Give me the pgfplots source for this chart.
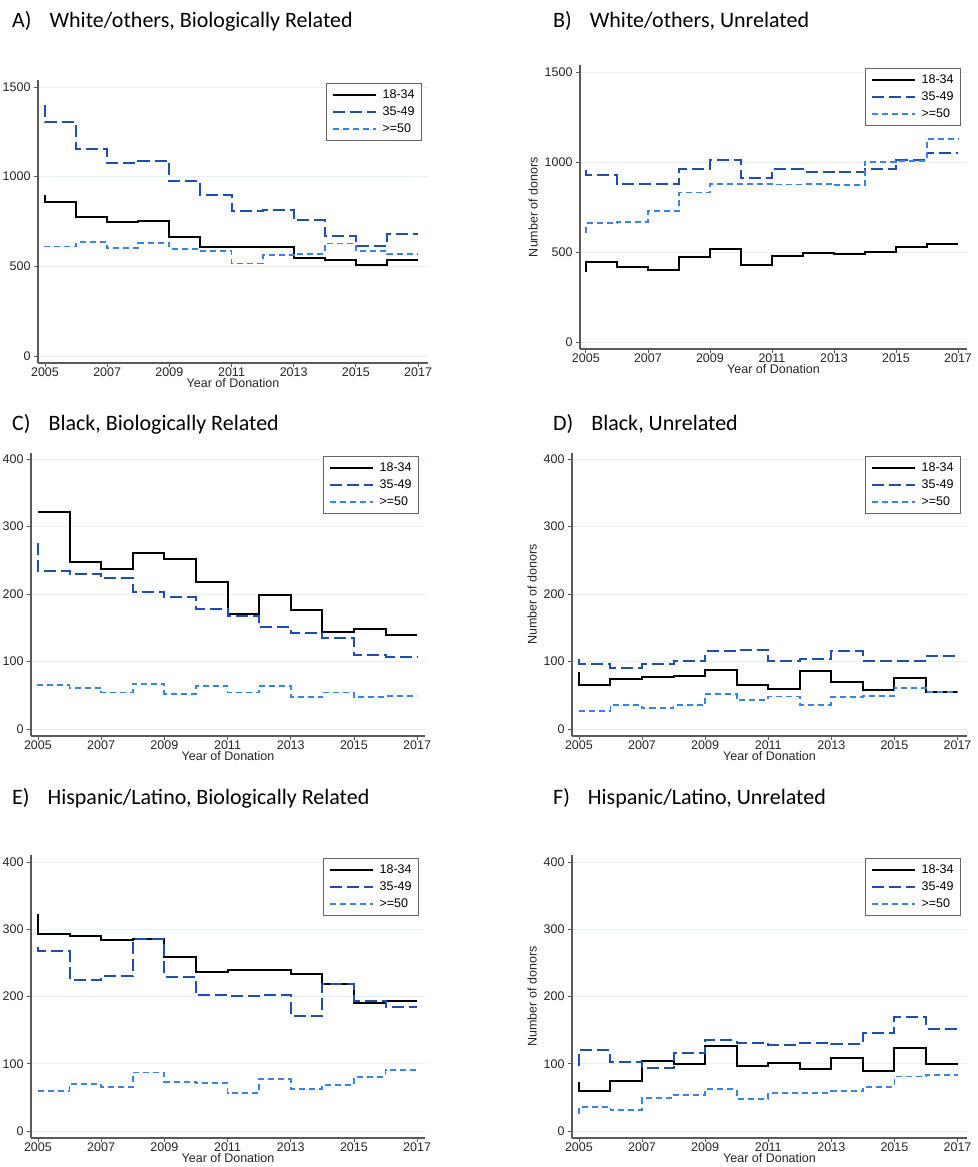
\documentclass[border=0pt]{standalone}
\usepackage{fontspec}
\setmainfont{Liberation Sans}
\newfontfamily\titlefont{Carlito}
\usepackage{pgfplots}
\usepackage{pgfplotstable}
\pgfplotsset{compat=1.18}
\definecolor{cdark}{RGB}{30,78,176}
\definecolor{clight}{RGB}{55,130,235}
\definecolor{gridc}{RGB}{232,240,242}
\definecolor{axc}{RGB}{90,90,90}

% x: year; a: 18-34; b: 35-49; c: >=50
\pgfplotstableread{
x a b c
2005 897 1398 605
2005 856 1303 611
2006 774 1153 635
2007 746 1075 600
2008 752 1088 631
2009 666 975 598
2010 609 898 585
2011 607 807 516
2012 607 813 564
2013 549 757 570
2014 538 668 627
2015 510 614 585
2016 538 679 568
2017 538 679 568
}\tA
\pgfplotstableread{
x a b c
2005 388 957 608
2005 443 925 660
2006 417 875 666
2007 400 877 729
2008 473 961 831
2009 519 1011 879
2010 430 909 877
2011 480 959 875
2012 497 944 879
2013 491 946 870
2014 502 961 1001
2015 525 1009 1007
2016 547 1051 1127
2017 547 1051 1127
}\tB
\pgfplotstableread{
x a b c
2005 322 276 66
2005 322 234 65
2006 247 230 61
2007 237 223 54
2008 260 203 67
2009 252 195 52
2010 218 178 64
2011 171 167 54
2012 198 151 64
2013 177 142 47
2014 144 135 54
2015 148 109 47
2016 139 107 49
2017 139 107 49
}\tC
\pgfplotstableread{
x a b c
2005 84 104 27
2005 65 96 27
2006 74 91 36
2007 77 96 31
2008 78 100 35
2009 87 115 52
2010 65 117 43
2011 59 101 48
2012 86 104 36
2013 69 115 47
2014 58 101 49
2015 76 101 61
2016 55 108 55
2017 55 108 55
}\tD
\pgfplotstableread{
x a b c
2005 322 273 60
2005 293 267 60
2006 290 225 70
2007 284 230 65
2008 285 285 87
2009 259 229 73
2010 236 202 71
2011 240 200 56
2012 239 202 77
2013 233 171 63
2014 219 218 69
2015 191 193 80
2016 193 184 91
2017 193 184 91
}\tE
\pgfplotstableread{
x a b c
2005 73 96 25
2005 60 120 36
2006 75 102 31
2007 104 93 49
2008 99 116 54
2009 126 135 62
2010 96 131 48
2011 101 128 57
2012 92 131 57
2013 109 129 59
2014 89 145 65
2015 124 170 81
2016 100 152 83
2017 100 152 83
}\tF

\pgfplotsset{
  panel/.style={
    scale only axis, anchor=south west,
    axis x line*=bottom, axis y line*=left,
    axis line style={draw=axc, line width=1.3pt, -},
    xtick pos=left, ytick pos=left,
    tick style={draw=axc, line width=0.8pt},
    tick align=outside, major tick length=4pt,
    xtick={2005,2007,...,2017},
    /pgf/number format/1000 sep={},
    /pgf/number format/assume math mode=true,
    ticklabel style={font=\fontsize{12.5}{12.5}\selectfont, text=black!85},
    xticklabel style={inner sep=1pt},
    ymajorgrids, grid style={draw=gridc, line width=0.8pt},
    xlabel={Year of Donation},
    xlabel style={font=\fontsize{12.5}{12.5}\selectfont, text=black!85, inner sep=0pt},
    ylabel style={font=\fontsize{12.5}{12.5}\selectfont, text=black!85},
    legend style={at={(1,1)}, anchor=north east, xshift=-6pt, yshift=-3pt,
      draw=black!60, line width=0.8pt, font=\fontsize{12.5}{12.5}\selectfont,
      inner xsep=5pt, inner ysep=4pt, row sep=1.5pt, column sep=4pt,
      nodes={inner sep=2pt, text height=9pt, text depth=2.5pt},
      fill=white},
    legend cell align=left,
    legend image code/.code={\draw[##1] (0pt,0pt) -- (43pt,0pt);},
    clip=false,
  },
  s1/.style={const plot, black, line width=2pt},
  s2/.style={const plot, cdark, line width=2pt, dash pattern=on 12pt off 5pt},
  s3/.style={const plot, clight, line width=1.8pt, dash pattern=on 6pt off 4pt},
}

\begin{document}
\begin{tikzpicture}[x=1pt,y=1pt]
\useasboundingbox (0,0) rectangle (977,1167);

% Titles
\node[anchor=base west, font=\titlefont\fontsize{22}{22}\selectfont, inner sep=0pt] at (12,1139.5) {A)\hspace{18pt}White/others, Biologically Related};
\node[anchor=base west, font=\titlefont\fontsize{22}{22}\selectfont, inner sep=0pt] at (553,1139.5) {B)\hspace{18pt}White/others, Unrelated};
\node[anchor=base west, font=\titlefont\fontsize{22}{22}\selectfont, inner sep=0pt] at (12,736) {C)\hspace{18pt}Black, Biologically Related};
\node[anchor=base west, font=\titlefont\fontsize{22}{22}\selectfont, inner sep=0pt] at (553,736) {D)\hspace{18pt}Black, Unrelated};
\node[anchor=base west, font=\titlefont\fontsize{22}{22}\selectfont, inner sep=0pt] at (12,362) {E)\hspace{18pt}Hispanic/Latino, Biologically Related};
\node[anchor=base west, font=\titlefont\fontsize{22}{22}\selectfont, inner sep=0pt] at (553,362) {F)\hspace{18pt}Hispanic/Latino, Unrelated};

% A
\begin{axis}[panel, at={(38pt,804pt)}, width=390pt, height=283pt,
  xmin=2004.775, xmax=2017.32, ymin=-39, ymax=1539, ytick={0,500,1000,1500}]
\addplot[s1] table[x=x,y=a] {\tA}; \addlegendentry{18-34}
\addplot[s2] table[x=x,y=b] {\tA}; \addlegendentry{35-49}
\addplot[s3] table[x=x,y=c] {\tA}; \addlegendentry{>=50}
\end{axis}

% B
\begin{axis}[panel, at={(580pt,818pt)}, width=387pt, height=284pt,
  xmin=2004.81, xmax=2017.29, ymin=-39, ymax=1539, ytick={0,500,1000,1500},
  ylabel={Number of donors}]
\addplot[s1] table[x=x,y=a] {\tB}; \addlegendentry{18-34}
\addplot[s2] table[x=x,y=b] {\tB}; \addlegendentry{35-49}
\addplot[s3] table[x=x,y=c] {\tB}; \addlegendentry{>=50}
\end{axis}

% C
\begin{axis}[panel, at={(31pt,431pt)}, width=394pt, height=283pt,
  xmin=2004.78, xmax=2017.25, ymin=-10.4, ymax=408.9, ytick={0,100,...,400}]
\addplot[s1] table[x=x,y=a] {\tC}; \addlegendentry{18-34}
\addplot[s2] table[x=x,y=b] {\tC}; \addlegendentry{35-49}
\addplot[s3] table[x=x,y=c] {\tC}; \addlegendentry{>=50}
\end{axis}

% D
\begin{axis}[panel, at={(572pt,431pt)}, width=395pt, height=283pt,
  xmin=2004.78, xmax=2017.3, ymin=-10.4, ymax=408.9, ytick={0,100,...,400},
  ylabel={Number of donors}]
\addplot[s1] table[x=x,y=a] {\tD}; \addlegendentry{18-34}
\addplot[s2] table[x=x,y=b] {\tD}; \addlegendentry{35-49}
\addplot[s3] table[x=x,y=c] {\tD}; \addlegendentry{>=50}
\end{axis}

% E
\begin{axis}[panel, at={(31pt,29pt)}, width=394pt, height=283pt,
  xmin=2004.78, xmax=2017.25, ymin=-10.4, ymax=410.4, ytick={0,100,...,400}]
\addplot[s1] table[x=x,y=a] {\tE}; \addlegendentry{18-34}
\addplot[s2] table[x=x,y=b] {\tE}; \addlegendentry{35-49}
\addplot[s3] table[x=x,y=c] {\tE}; \addlegendentry{>=50}
\end{axis}

% F
\begin{axis}[panel, at={(572pt,29pt)}, width=395pt, height=283pt,
  xmin=2004.78, xmax=2017.3, ymin=-10.4, ymax=410.4, ytick={0,100,...,400},
  ylabel={Number of donors}]
\addplot[s1] table[x=x,y=a] {\tF}; \addlegendentry{18-34}
\addplot[s2] table[x=x,y=b] {\tF}; \addlegendentry{35-49}
\addplot[s3] table[x=x,y=c] {\tF}; \addlegendentry{>=50}
\end{axis}
\end{tikzpicture}
\end{document}
